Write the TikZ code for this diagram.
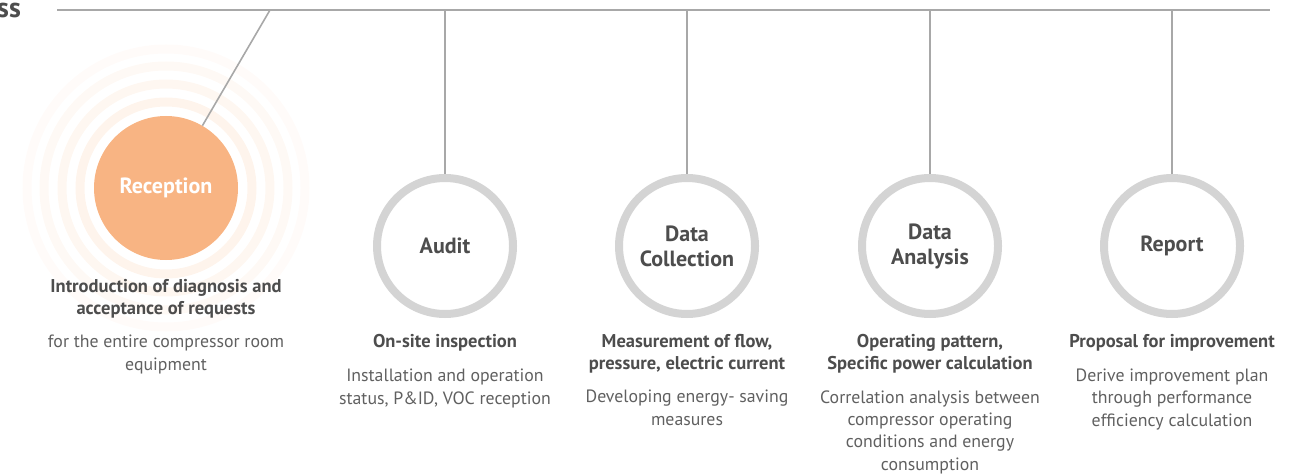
\documentclass[tikz,border=0pt]{standalone}
\usepackage{fontspec}
\setmainfont{PT Sans}
\usetikzlibrary{positioning}
\definecolor{peach}{HTML}{F8B483}
\definecolor{glow}{HTML}{FDEBDD}
\definecolor{ringgray}{HTML}{D4D4D4}
\definecolor{linegray}{HTML}{A8A8A8}
\definecolor{headgray}{HTML}{4D4D4D}
\definecolor{bodygray}{HTML}{606060}

\begin{document}
\begin{tikzpicture}[
				x=1pt, y=-1pt,
				rule/.style={draw=linegray, line width=1.6pt},
				stepdone/.style={circle, fill=peach, minimum size=144pt, inner sep=0pt, text=white, font=\fontsize{22}{24}\selectfont\bfseries, align=center},
				stepbox/.style={circle, draw=ringgray, line width=8pt, fill=white, minimum size=136pt, inner sep=0pt, text=headgray, font=\fontsize{22}{25}\selectfont\bfseries, align=center},
				headtext/.style={anchor=base, align=center, text=headgray, font=\fontsize{18.5}{22}\selectfont\bfseries, inner sep=0pt},
				bodytext/.style={anchor=base, align=center, text=bodygray, font=\fontsize{17.8}{22.3}\selectfont, inner sep=0pt}
			]
			\useasboundingbox (0,0) rectangle (1308,476);
			% title, cut at the left edge
			\node[anchor=base east, text=headgray, font=\fontsize{28}{28}\selectfont\bfseries, inner sep=0pt] (title) at (21,18) {Process};

			% glow round the current step
			\foreach \r/\c in {86/55, 104/42, 122/30, 139/18}
				\draw[glow!\c, line width=9pt] (166,188) circle (\r);

			% steps
			\node[stepdone] (rec) at (166,188) {\raisebox{-2pt}{Reception}};
			\node[stepbox] (aud) at (445,246) {Audit};
			\node[stepbox] (dcol) at (687,246) {Data\\Collection};
			\node[stepbox] (dana) at (930,246) {Data\\Analysis};
			\node[stepbox] (rep) at (1172,246) {Report};

			% time line and hangers
			\coordinate (tl) at (57,10);
			\coordinate (tr) at (1270,10);
			\coordinate (trec) at (270,10);
			\draw[rule] (tl) -- (tr);
			\draw[rule] (trec) -- (rec);
			\draw[rule] (aud.north |- tl) -- (aud.north);
			\draw[rule] (dcol.north |- tl) -- (dcol.north);
			\draw[rule] (dana.north |- tl) -- (dana.north);
			\draw[rule] (rep.north |- tl) -- (rep.north);

			% texts below (base = last line)
			\node[headtext] (rech) at (166,314) {Introduction of diagnosis and\\acceptance of requests};
			\node[bodytext] (recb) at (166,370) {for the entire compressor room\\equipment};
			\node[headtext] (audh) at (445,347) {On-site inspection};
			\node[bodytext] (audb) at (445,404) {Installation and operation\\status, P\&ID, VOC reception};
			\node[headtext] (dcolh) at (687,369) {Measurement of flow,\\pressure, electric current};
			\node[bodytext] (dcolb) at (687,425) {Developing energy- saving\\measures};
			\node[headtext] (danah) at (930,369) {Operating pattern,\\Specific power calculation};
			\node[bodytext] (danab) at (930,470) {Correlation analysis between\\compressor operating\\conditions and energy\\consumption};
			\node[headtext] (reph) at (1172,347) {Proposal for improvement};
			\node[bodytext] (repb) at (1172,426) {Derive improvement plan\\through performance\\efficiency calculation};
		\end{tikzpicture}
\end{document}
